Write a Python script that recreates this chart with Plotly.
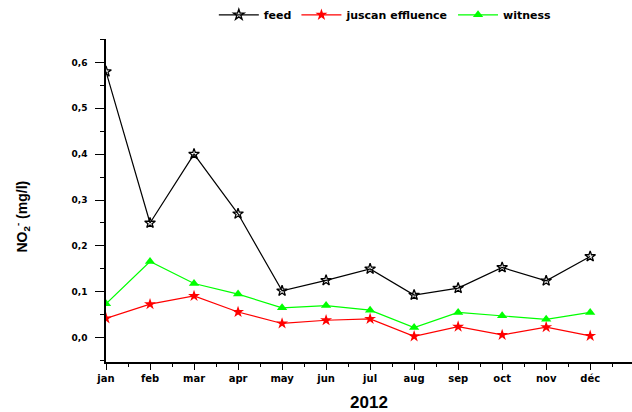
import plotly.graph_objects as go

# Monthly nitrite concentrations, 2012
months = ["jan", "feb", "mar", "apr", "may", "jun", "jul", "aug", "sep", "oct", "nov", "déc"]
feed = [0.58, 0.25, 0.40, 0.27, 0.102, 0.125, 0.15, 0.093, 0.108, 0.153, 0.124, 0.177]
effluent = [0.042, 0.073, 0.091, 0.056, 0.031, 0.038, 0.041, 0.003, 0.024, 0.006, 0.023, 0.004]
witness = [0.074, 0.166, 0.118, 0.095, 0.065, 0.07, 0.06, 0.022, 0.055, 0.048, 0.04, 0.055]
y_ticks = [0.0, 0.1, 0.2, 0.3, 0.4, 0.5, 0.6]

x = list(range(len(months)))
FONT = "Liberation Sans, Arial, sans-serif"
WIDE = "DejaVu Sans, Verdana, sans-serif"

fig = go.Figure()
fig.add_trace(go.Scatter(
    x=x, y=feed, name="<b>feed</b>", mode="lines+markers",
    line=dict(color="black", width=1.2),
    marker=dict(symbol="star-open", size=8, color="black", line=dict(width=1.3)),
))
fig.add_trace(go.Scatter(
    x=x, y=effluent, name="<b>juscan effluence</b>", mode="lines+markers",
    line=dict(color="#ff0000", width=1.2),
    marker=dict(symbol="star", size=9, color="#ff0000"),
))
fig.add_trace(go.Scatter(
    x=x, y=witness, name="<b>witness</b>", mode="lines+markers",
    line=dict(color="#00ff00", width=1.2),
    marker=dict(symbol="triangle-up", size=9, color="#00ff00"),
))

fig.update_layout(
    width=632, height=412,
    margin=dict(l=106, r=0, t=31, b=50),
    paper_bgcolor="white", plot_bgcolor="white",
    separators=", ",
    font=dict(family=FONT, color="black"),
    showlegend=True,
    legend=dict(
        orientation="h", x=0.205, y=1.075, xanchor="left", yanchor="middle",
        font=dict(size=11, family=WIDE, color="black"),
        itemwidth=40, tracegroupgap=0, bgcolor="rgba(0,0,0,0)",
        itemsizing="trace",
    ),
    xaxis=dict(
        range=[0, 11.95],
        tickmode="array", tickvals=x, ticktext=[f"<b>{m}</b>" for m in months],
        ticks="outside", ticklen=6, tickwidth=1.2, tickcolor="black",
        minor=dict(ticks="outside", ticklen=3, tickwidth=1.2, tickcolor="black", dtick=0.5, tick0=0),
        showline=True, linecolor="black", linewidth=1.5,
        showgrid=False, zeroline=False,
        tickfont=dict(size=10, family=WIDE, color="black"),
        title=dict(text="<b>2012</b>", font=dict(size=17, family=FONT), standoff=14),
    ),
    yaxis=dict(
        range=[-0.053, 0.651],
        tickmode="array", tickvals=y_ticks,
        ticktext=[f"<b>{v:.1f}</b>".replace(".", ",") for v in y_ticks],
        ticks="outside", ticklen=9, tickwidth=1.2, tickcolor="black",
        minor=dict(ticks="outside", ticklen=4, tickwidth=1.2, tickcolor="black", dtick=0.05, tick0=0),
        showline=True, linecolor="black", linewidth=1.5,
        showgrid=False, zeroline=False,
        tickfont=dict(size=9, family=WIDE, color="black"),
        ticklabelstandoff=6,
    ),
    annotations=[dict(
        text="<b>NO<sub>2</sub><sup>-</sup> (mg/l)</b>", textangle=-90,
        xref="paper", yref="paper", x=-0.16, y=0.45,
        xanchor="center", yanchor="middle", showarrow=False,
        font=dict(size=14, family=FONT, color="black"),
    )],
)

fig.write_html("out.html")
